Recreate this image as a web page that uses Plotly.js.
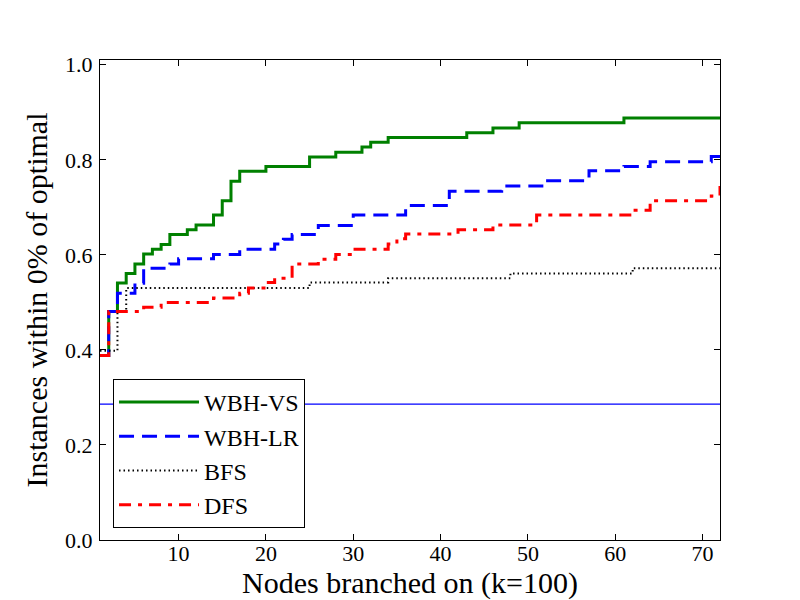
<!DOCTYPE html>
<html>
<head>
<meta charset="utf-8">
<script src="https://cdn.plot.ly/plotly-3.0.1.min.js"></script>
<style>html, body { margin: 0; padding: 0; background: #fff; }</style>
</head>
<body>
<div id="chart" style="width:800px;height:600px"></div>
<script>
// step points: node count where the share changes
const vsNodes = [1, 2, 3, 4, 5, 6, 7, 8, 9, 11, 12, 14, 15, 16, 17, 20, 25, 28, 31, 32, 34, 43, 46, 49, 61, 72];
const vsShare = [0.388, 0.481, 0.541, 0.561, 0.581, 0.602, 0.612, 0.622, 0.643, 0.653, 0.663, 0.684, 0.714, 0.755, 0.776, 0.786, 0.806, 0.816, 0.827, 0.837, 0.847, 0.857, 0.867, 0.878, 0.888, 0.888];

const lrNodes = [1, 2, 3, 5, 6, 9, 10, 14, 17, 21, 22, 23, 26, 30, 36, 41, 47, 52, 57, 61, 64, 71, 72];
const lrShare = [0.388, 0.481, 0.519, 0.540, 0.572, 0.581, 0.592, 0.601, 0.612, 0.623, 0.633, 0.643, 0.662, 0.684, 0.704, 0.734, 0.745, 0.756, 0.777, 0.786, 0.796, 0.807, 0.807];

const bfsNodes = [1, 3, 4, 25, 34, 48, 62, 72];
const bfsShare = [0.398, 0.481, 0.530, 0.542, 0.551, 0.561, 0.572, 0.572];

const dfsNodes = [1, 2, 6, 8, 14, 17, 18, 20, 21, 23, 26, 28, 30, 34, 35, 36, 42, 46, 51, 62, 64, 71, 72];
const dfsShare = [0.388, 0.481, 0.490, 0.500, 0.509, 0.519, 0.530, 0.542, 0.551, 0.581, 0.591, 0.601, 0.612, 0.623, 0.634, 0.644, 0.653, 0.663, 0.684, 0.694, 0.714, 0.724, 0.745];

const baselineNodes = [1, 72];
const baselineShare = 0.2857;

const xTicks = [10, 20, 30, 40, 50, 60, 70];
const yTicks = [0.0, 0.2, 0.4, 0.6, 0.8, 1.0];

const serif = "Liberation Serif, Times New Roman, serif";

function stepTrace(name, x, y, color, width, dash) {
  return {
    x: x, y: y, name: name, legendgroup: name,
    type: "scatter", mode: "lines",
    line: { shape: "hv", color: color, width: width, dash: dash },
  };
}

const traces = [
  {
    x: baselineNodes, y: baselineNodes.map(() => baselineShare),
    type: "scatter", mode: "lines", showlegend: false, hoverinfo: "skip",
    line: { color: "#0000ff", width: 1.3 },
  },
  stepTrace("WBH-VS", vsNodes, vsShare, "#008000", 3, "solid"),
  stepTrace("WBH-LR", lrNodes, lrShare, "#0000ff", 3, "15px,8px"),
  stepTrace("BFS", bfsNodes, bfsShare, "#000000", 2, "1.5px,3px"),
  stepTrace("DFS", dfsNodes, dfsShare, "#ff0000", 3, "12px,7px,4px,7px"),
];

const axisCommon = {
  showgrid: false, zeroline: false,
  showline: true, linecolor: "#000", linewidth: 1, mirror: "ticks",
  ticks: "inside", ticklen: 6, tickwidth: 1, tickcolor: "#000",
  tickfont: { family: serif, size: 22, color: "#000" },
};

const layout = {
  width: 800, height: 600,
  margin: { l: 100, r: 80, t: 60, b: 60 },
  paper_bgcolor: "#fff", plot_bgcolor: "#fff",
  showlegend: true,
  xaxis: Object.assign({}, axisCommon, {
    range: [1, 72], tickvals: xTicks, ticklabelstandoff: -6,
    title: { text: "Nodes branched on (k=100)", font: { family: serif, size: 30, color: "#000" }, standoff: 2 },
  }),
  yaxis: Object.assign({}, axisCommon, {
    range: [0, 1.01], tickvals: yTicks, tickformat: ".1f", ticklabelstandoff: 2,
    title: { text: "Instances within 0% of optimal", font: { family: serif, size: 30, color: "#000" }, standoff: 8 },
  }),
  legend: {
    x: 0.021, y: 0.025, xanchor: "left", yanchor: "bottom",
    bgcolor: "#fff", bordercolor: "#000", borderwidth: 1,
    font: { family: serif, size: 24, color: "#000" },
    traceorder: "grouped", tracegroupgap: 0,
    itemwidth: 80,
  },
};

Plotly.newPlot("chart", traces, layout, { staticPlot: true });
</script>
</body>
</html>
